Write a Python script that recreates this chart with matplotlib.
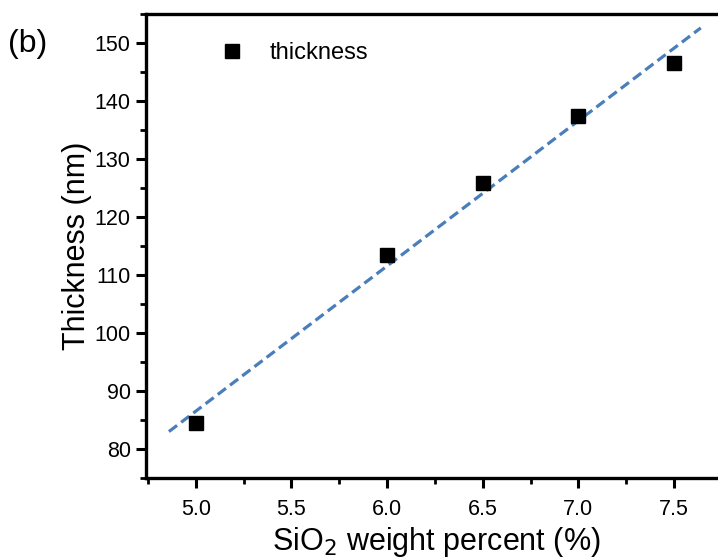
import numpy as np
import matplotlib
matplotlib.use('Agg')
import matplotlib.pyplot as plt
from matplotlib.ticker import MultipleLocator

plt.rcParams['font.family'] = ['Liberation Sans', 'DejaVu Sans']

sio2 = np.array([5.0, 6.0, 6.5, 7.0, 7.5])
thickness = np.array([84.5, 113.4, 125.9, 137.4, 146.6])

# linear fit
k, m = np.polyfit(sio2, thickness, 1)
x_fit = np.array([4.86, 7.64])
y_fit = k * x_fit + m

fig = plt.figure(figsize=(7.18, 5.6), dpi=100)
ax = fig.add_axes([0.2033, 0.1464, 0.81, 0.8286])

ax.plot(x_fit, y_fit, '--', color='#4a7ebb', lw=2.3, dashes=(3.2, 1.6))
ax.plot(sio2, thickness, 's', color='black', markersize=9.5, label='thickness')

ax.set_xlim(4.74, 7.78)
ax.set_ylim(75, 155)
ax.xaxis.set_major_locator(MultipleLocator(0.5))
ax.xaxis.set_minor_locator(MultipleLocator(0.25))
ax.yaxis.set_major_locator(MultipleLocator(10))
ax.yaxis.set_minor_locator(MultipleLocator(5))
ax.xaxis.set_major_formatter(matplotlib.ticker.FormatStrFormatter('%.1f'))

ax.tick_params(which='major', direction='out', length=7, width=2.2, labelsize=15.5, pad=4)
ax.tick_params(axis='x', which='major', pad=8)
ax.tick_params(which='minor', direction='out', length=4.5, width=2.0)
ax.tick_params(top=False, right=False)
for s in ['left', 'bottom', 'top']:
    ax.spines[s].set_linewidth(2.4)
ax.spines['right'].set_visible(False)

ax.set_xlabel('SiO$_2$ weight percent (%)', fontsize=22, labelpad=4)
ax.set_ylabel('Thickness (nm)', fontsize=22, labelpad=2)

ax.legend(loc='upper left', bbox_to_anchor=(0.07, 0.985), frameon=False,
          fontsize=17, handletextpad=0.6, markerscale=1.0)

fig.text(0.011, 0.907, '(b)', fontsize=23)

fig.savefig('out.png', dpi=100)
